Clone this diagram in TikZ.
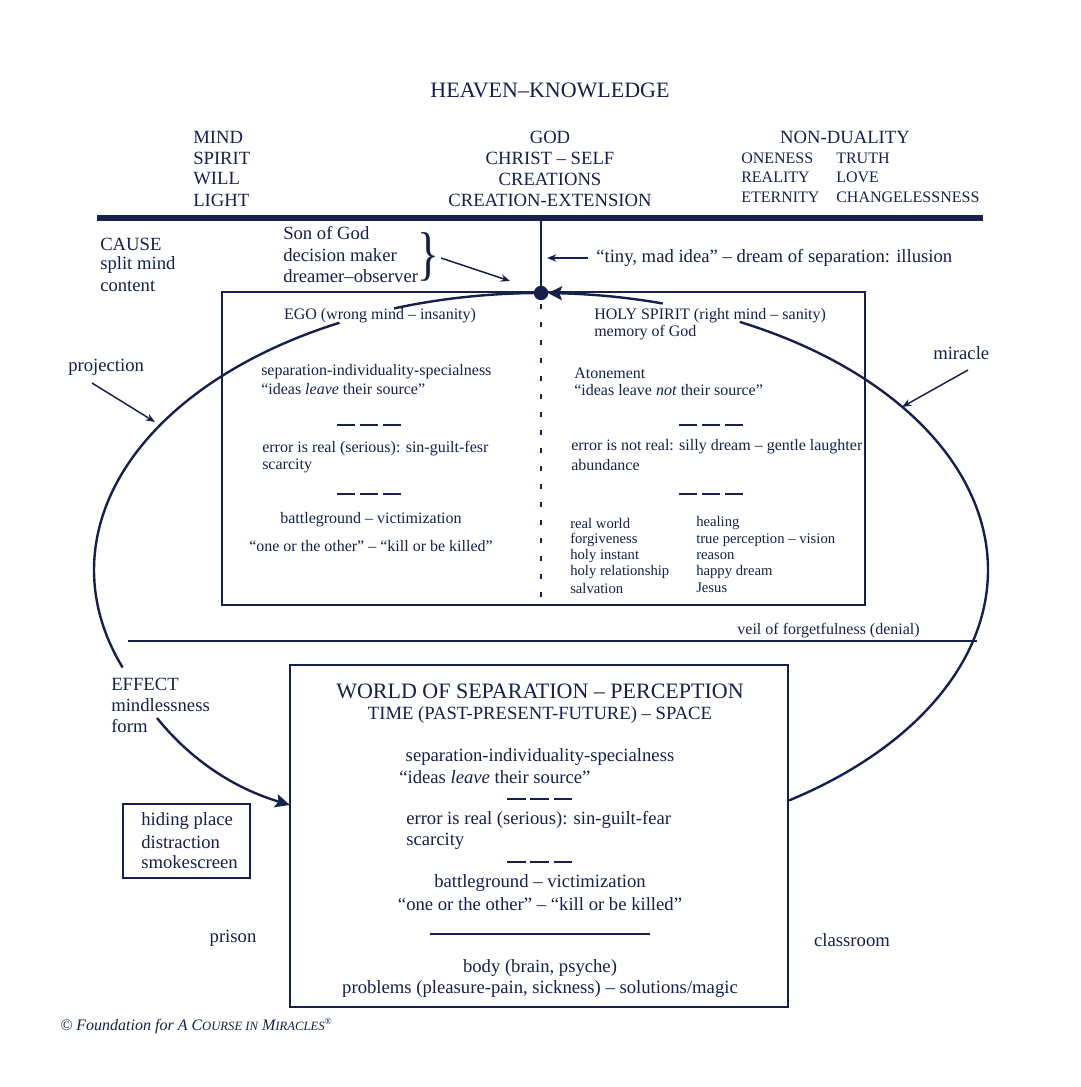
\documentclass[tikz,border=0pt]{standalone}
\usepackage{fontspec}
\setmainfont{Liberation Serif}
\usetikzlibrary{arrows.meta}
\definecolor{navy}{RGB}{22,32,74}
\begin{document}
\begin{tikzpicture}[x=0.75pt,y=-0.75pt,
  every node/.style={text=navy, inner sep=0pt},
  big/.style={font=\fontsize{16.5}{19}\selectfont},
  lbl/.style={font=\fontsize{14}{16}\selectfont},
  mid/.style={font=\fontsize{12}{14}\selectfont},
  sml/.style={font=\fontsize{11}{13}\selectfont},
  boxline/.style={draw=navy, line width=1.4pt},
  ell/.style={draw=navy, line width=1.8pt},
  arr/.style={draw=navy, line width=1.1pt, -{Stealth[length=7pt,width=5.5pt]}},
  tridash/.style={draw=navy, line width=2pt, dash pattern=on 13.5pt off 3.75pt},
  tridashb/.style={draw=navy, line width=1.5pt, dash pattern=on 14pt off 3.5pt}]
\useasboundingbox (0,0) rectangle (1080,1087);
\fill[white] (0,0) rectangle (1080,1087);

% ---- top heading
\node[big] (heaven) at (550,90) {HEAVEN–KNOWLEDGE};
\node[lbl,anchor=west] (mind) at (193,137) {MIND};
\node[lbl,anchor=west] (spirit) at (193,158) {SPIRIT};
\node[lbl,anchor=west] (will) at (193,179) {WILL};
\node[lbl,anchor=west] (light) at (193,200) {LIGHT};
\node[lbl] (god) at (550,137) {GOD};
\node[lbl] (christ) at (550,158) {CHRIST – SELF};
\node[lbl] (creations) at (550,179) {CREATIONS};
\node[lbl] (creext) at (550,200) {CREATION-EXTENSION};
\node[lbl] (nondual) at (845,137) {NON-DUALITY};
\node[mid,anchor=west] (oneness) at (741,158) {ONENESS};
\node[mid,anchor=west] (reality) at (741,177) {REALITY};
\node[mid,anchor=west] (eternity) at (741,197) {ETERNITY};
\node[mid,anchor=west] (truth) at (836,158) {TRUTH};
\node[mid,anchor=west] (love) at (836,177) {LOVE};
\node[mid,anchor=west] (changeless) at (836,197) {CHANGELESSNESS};
\coordinate (topL) at (97,218);
\coordinate (topR) at (983,218);
\draw[navy, line width=4.5pt] (topL) -- (topR);

% ---- cause / son of God
\node[lbl,anchor=west] (cause) at (100,244) {CAUSE};
\node[lbl,anchor=west] (split) at (100,265) {split mind};
\node[lbl,anchor=west] (content) at (100,286) {content};
\node[lbl,anchor=west] (son) at (283,233) {Son of God};
\node[lbl,anchor=west] (decision) at (283,255) {decision maker};
\node[lbl,anchor=west] (dreamer) at (283,276) {dreamer–observer};
\node[font=\fontsize{34}{34}\selectfont] (brace) at (428,257) {\scalebox{1}[1.3]{\}}};
\coordinate (sonA) at (441,258);
\coordinate (sonB) at (510,281);
\draw[arr] (sonA) -- (sonB);
\coordinate (tinyA) at (588,258);
\coordinate (tinyB) at (547,258);
\draw[arr] (tinyA) -- (tinyB);
\node[lbl,anchor=west] (tiny) at (596,258) {“tiny, mad idea” – dream of separation: illusion};
\coordinate (vtop) at (541,220);
\coordinate (dotc) at (541,293);
\draw[navy, line width=1.4pt] (vtop) -- (dotc);

% ---- upper box
\coordinate (ubA) at (222,292);
\coordinate (ubB) at (865,605);
\draw[boxline] (ubA) rectangle (ubB);
\coordinate (dashA) at (541,304);
\coordinate (dashB) at (541,605);
\draw[navy, line width=2.1pt, dash pattern=on 4pt off 9.5pt] (dashA) -- (dashB);

% ellipse pieces
\draw[ell] plot[domain=243.2:159.4, samples=120, smooth] ({541+447*cos(\x)},{570+277*sin(\x)});
\draw[ell] plot[domain=-63.6:56.3, samples=120, smooth] ({541+447*cos(\x)},{570+277*sin(\x)});
\draw[ell] plot[domain=-109.2:-90, samples=40, smooth] ({541+447*cos(\x)},{570+277*sin(\x)});
\draw[ell, -{Stealth[length=10.5pt,width=10.5pt,inset=2pt]}] plot[domain=-74.2:-89.1, samples=40, smooth] ({541+447*cos(\x)},{570+277*sin(\x)});
\fill[navy] (dotc) circle[radius=5.4pt];

% ego side
\node[mid] (ego) at (380,316) {EGO (wrong mind – insanity)};
\node[mid,anchor=west] (sepL) at (261,372) {separation-individuality-specialness};
\node[mid,anchor=west] (ideasL) at (261,389) {“ideas \textit{leave} their source”};
\coordinate (d1a) at (337,425); \coordinate (d1b) at (401,425);
\draw[tridash] (d1a) -- (d1b);
\node[mid,anchor=west] (errL) at (262,449) {error is real (serious): sin-guilt-fesr};
\node[mid,anchor=west] (scarL) at (262,466) {scarcity};
\coordinate (d2a) at (337,494); \coordinate (d2b) at (401,494);
\draw[tridash] (d2a) -- (d2b);
\node[mid] (battleL) at (371,520) {battleground – victimization};
\node[mid] (oneL) at (371,546) {“one or the other” – “kill or be killed”};

% holy spirit side
\node[mid,anchor=west] (hs) at (594,316) {HOLY SPIRIT (right mind – sanity)};
\node[mid,anchor=west] (memory) at (594,333) {memory of God};
\node[mid,anchor=west] (aton) at (574,373) {Atonement};
\node[mid,anchor=west] (ideasR) at (574,390) {“ideas leave \textit{not} their source”};
\coordinate (d3a) at (679,425); \coordinate (d3b) at (743,425);
\draw[tridash] (d3a) -- (d3b);
\node[mid,anchor=west] (errR) at (571,447) {error is not real: silly dream – gentle laughter};
\node[mid,anchor=west] (abund) at (571,465) {abundance};
\coordinate (d4a) at (679,494); \coordinate (d4b) at (743,494);
\draw[tridash] (d4a) -- (d4b);
\node[sml,anchor=west] (rw) at (570,523) {real world};
\node[sml,anchor=west] (forg) at (570,540) {forgiveness};
\node[sml,anchor=west] (hi) at (570,556) {holy instant};
\node[sml,anchor=west] (hr) at (570,572) {holy relationship};
\node[sml,anchor=west] (salv) at (570,588) {salvation};
\node[sml,anchor=west] (heal) at (696,523) {healing};
\node[sml,anchor=west] (tp) at (696,540) {true perception – vision};
\node[sml,anchor=west] (reason) at (696,556) {reason};
\node[sml,anchor=west] (happy) at (696,572) {happy dream};
\node[sml,anchor=west] (jesus) at (696,588) {Jesus};

% projection / miracle
\node[lbl,anchor=west] (proj) at (68,367) {projection};
\coordinate (pA) at (92,383); \coordinate (pB) at (155,422);
\draw[arr] (pA) -- (pB);
\node[lbl,anchor=west] (mir) at (933,353) {miracle};
\coordinate (mA) at (968,370); \coordinate (mB) at (902,407);
\draw[arr] (mA) -- (mB);

% veil
\coordinate (vA) at (128,641); \coordinate (vB) at (977,641);
\draw[navy, line width=1.8pt] (vA) -- (vB);
\node[mid,anchor=east] (veil) at (920,631) {veil of forgetfulness (denial)};

% effect
\node[lbl,anchor=west] (effect) at (111,684) {EFFECT};
\node[lbl,anchor=west] (mindless) at (111,705) {mindlessness};
\node[lbl,anchor=west] (form) at (111,726) {form};
\coordinate (fA) at (157,718); \coordinate (fB) at (290,805);
\draw[ell, -{Stealth[length=11pt,width=10pt,inset=2pt]}] (fA) .. controls (195,765) and (240,790) .. (fB);

% hiding box
\coordinate (hA) at (123,804); \coordinate (hB) at (250,878);
\draw[boxline] (hA) rectangle (hB);
\node[lbl,anchor=west] (hiding) at (141,821) {hiding place};
\node[lbl,anchor=west] (distr) at (141,842) {distraction};
\node[lbl,anchor=west] (smoke) at (141,862) {smokescreen};
\node[lbl] (prison) at (233,938) {prison};
\node[lbl] (classroom) at (852,940) {classroom};

% world box
\coordinate (wA) at (290,665); \coordinate (wB) at (788,1007);
\draw[boxline] (wA) rectangle (wB);
\node[big] (world) at (540,691) {WORLD OF SEPARATION – PERCEPTION};
\node[lbl] (time) at (540,715) {TIME (PAST-PRESENT-FUTURE) – SPACE};
\node[lbl] (sepW) at (540,757) {separation-individuality-specialness};
\node[lbl,anchor=west] (ideasW) at (399,777) {“ideas \textit{leave} their source”};
\coordinate (d5a) at (507,799); \coordinate (d5b) at (573,799);
\draw[tridashb] (d5a) -- (d5b);
\node[lbl,anchor=west] (errW) at (406,820) {error is real (serious): sin-guilt-fear};
\node[lbl,anchor=west] (scarW) at (406,841) {scarcity};
\coordinate (d6a) at (507,862); \coordinate (d6b) at (573,862);
\draw[tridashb] (d6a) -- (d6b);
\node[lbl] (battleW) at (540,883) {battleground – victimization};
\node[lbl] (oneW) at (540,904) {“one or the other” – “kill or be killed”};
\coordinate (sA) at (430,934); \coordinate (sB) at (650,934);
\draw[navy, line width=1.9pt] (sA) -- (sB);
\node[lbl] (body) at (540,968) {body (brain, psyche)};
\node[lbl] (problems) at (540,989) {problems (pleasure-pain, sickness) – solutions/magic};

% footer
\node[font=\fontsize{12}{14}\selectfont,anchor=west] (footer) at (60,1026)
  {\textit{© Foundation for A C{\fontsize{9.5}{11}\selectfont OURSE IN} M{\fontsize{9.5}{11}\selectfont IRACLES}}\raisebox{5pt}{\fontsize{7}{8}\selectfont ®}};
\end{tikzpicture}
\end{document}
